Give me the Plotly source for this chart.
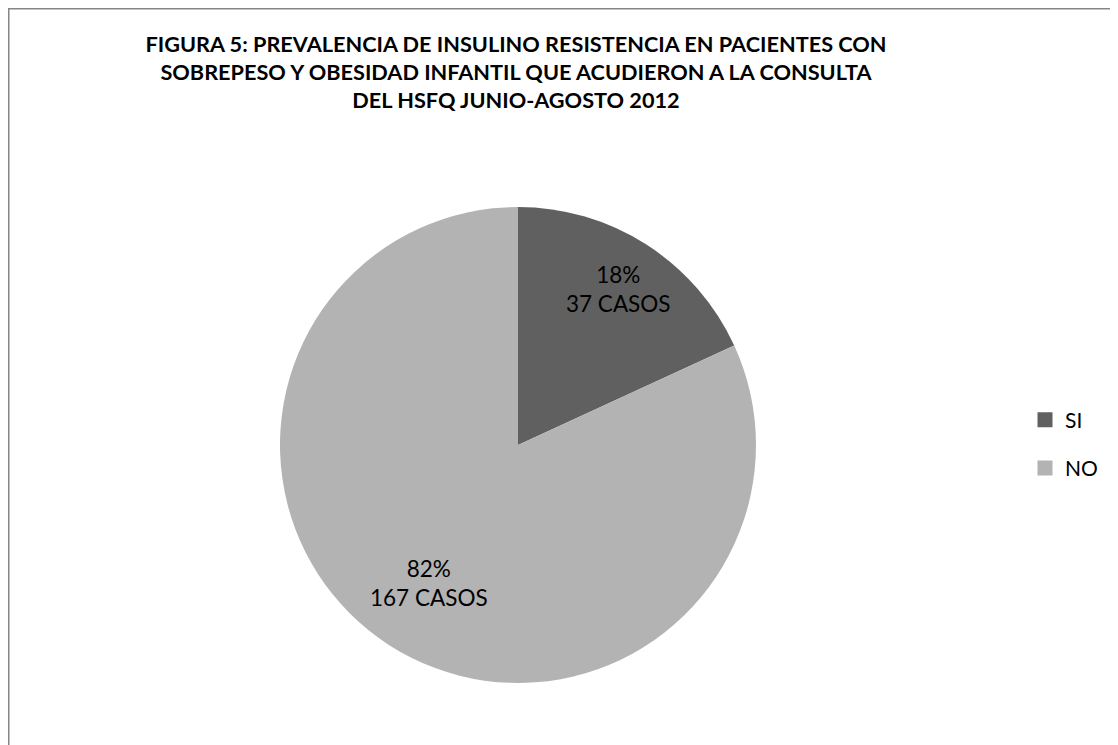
import math
import plotly.graph_objects as go

labels = ["SI", "NO"]
casos = [37, 167]
colors = ["#606060", "#b3b3b3"]

title_text = ("FIGURA 5: PREVALENCIA DE INSULINO RESISTENCIA EN PACIENTES CON<br>"
              "SOBREPESO Y OBESIDAD INFANTIL QUE ACUDIERON A LA CONSULTA<br>"
              "DEL HSFQ JUNIO-AGOSTO 2012")

W, H = 1118, 745
# pie box in px (page has an 8px body margin)
cx, cy, R = 510, 437, 238
label_r = [0.78, 0.69]

fig = go.Figure()
fig.add_trace(go.Pie(
    labels=labels,
    values=casos,
    sort=False,
    direction="clockwise",
    rotation=0,
    marker=dict(colors=colors, line=dict(width=0)),
    textinfo="none",
    hoverinfo="label+value+percent",
    showlegend=False,
    domain=dict(x=[(cx - R) / W, (cx + R) / W], y=[1 - (cy + R) / H, 1 - (cy - R) / H]),
))

# legend entries (separate groups so the spacing can match the original)
for lab, col in zip(labels, colors):
    fig.add_trace(go.Scatter(
        x=[None], y=[None], mode="markers", name=lab, legendgroup=lab,
        marker=dict(symbol="square", size=15, color=col),
        hoverinfo="skip",
    ))

# data labels placed along each slice's mid angle
total = sum(casos)
annotations = []
start = 0
for i, v in enumerate(casos):
    mid = (start + v / 2) / total * 2 * math.pi
    start += v
    r = label_r[i] * R
    px = cx + math.sin(mid) * r
    py = cy - math.cos(mid) * r
    annotations.append(dict(
        x=px / W, y=1 - py / H, xref="paper", yref="paper",
        text=f"{round(v / total * 100)}%<br>{v} CASOS",
        showarrow=False, xanchor="center", yanchor="middle",
        font=dict(size=22.5, color="black", family="Lato"),
    ))

fig.update_layout(
    width=W,
    height=H,
    margin=dict(l=0, r=0, t=0, b=0),
    paper_bgcolor="white",
    plot_bgcolor="white",
    xaxis=dict(visible=False),
    yaxis=dict(visible=False),
    title=dict(
        text=title_text,
        x=508 / W,
        xanchor="center",
        y=1 - 44 / H,
        yanchor="middle",
        font=dict(size=21.7, color="black", family="Lato", weight="bold"),
    ),
    legend=dict(
        x=1017 / W,
        y=1 - 436 / H,
        xanchor="left",
        yanchor="middle",
        font=dict(size=21, color="black", family="Lato"),
        tracegroupgap=18,
    ),
    annotations=annotations,
    shapes=[dict(
        type="rect", xref="paper", yref="paper",
        x0=0.5 / W, x1=1.2, y0=-0.2, y1=1 - 0.5 / H,
        line=dict(color="#868686", width=2),
        fillcolor="rgba(0,0,0,0)",
    )],
)

fig.write_html("out.html")
